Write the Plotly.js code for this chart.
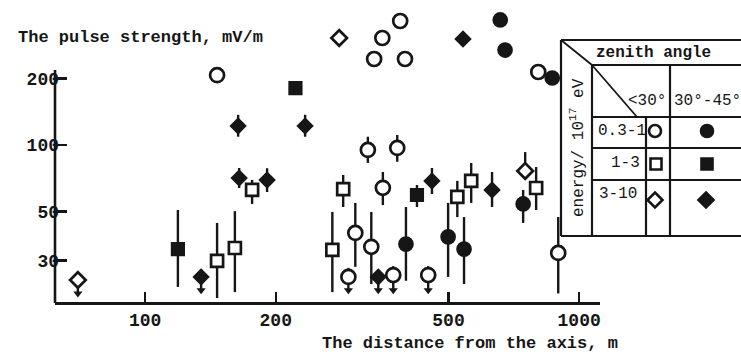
<!DOCTYPE html>
<html><head><meta charset="utf-8">
<script src="https://cdn.plot.ly/plotly-3.0.1.min.js"></script>
<style>html,body{margin:0;padding:0;background:#fff;} #chart{width:741px;height:356px;}</style>
</head><body><div id="chart"></div>
<script>
// ---------------- data: distance (m), pulse strength (mV/m), error-bar top/bottom, upper-limit flag
const tickVals = [100, 200, 500, 1000];
const yTickVals = [30, 50, 100, 200];

// energy 0.3-1 x10^17 eV, zenith < 30 deg (open circles)
const openCircleX  = [146.5, 387, 352, 337, 397, 805, 326, 381, 353, 305, 332, 895, 294, 373, 449];
const openCircleY  = [207, 364, 305, 245, 245, 214, 95, 97, 64, 40, 34.6, 32.5, 25.3, 25.8, 25.8];
const openCircleHi = [207, 364, 305, 245, 245, 214, 109, 111, 75.5, 54.7, 49.8, 47.2, 27.8, 28.3, 28.3];
const openCircleLo = [207, 364, 305, 245, 245, 214, 83, 84, 53.5, 28.1, 23.5, 21.3, 22, 22, 22];
const openCircleLimit = [0, 0, 0, 0, 0, 0, 0, 0, 0, 0, 0, 0, 1, 1, 1];

// energy 0.3-1, zenith 30-45 deg (filled circles)
const filledCircleX  = [658, 675, 867, 399, 499, 543, 743];
const filledCircleY  = [368, 269, 201, 35.6, 38.4, 33.8, 54.1];
const filledCircleHi = [368, 269, 201, 52.4, 54.7, 47.2, 62.6];
const filledCircleLo = [368, 269, 201, 24.3, 25.3, 23.5, 44.4];
const filledCircleLimit = [0, 0, 0, 0, 0, 0, 0];

// energy 1-3, zenith < 30 (open squares)
const openSquareX  = [146.5, 161, 176.4, 286, 270, 524, 564, 796];
const openSquareY  = [29.9, 34.2, 62.6, 63.2, 33.5, 58.2, 68.8, 63.9];
const openSquareHi = [44.4, 50.2, 69.5, 73.2, 49.8, 68.8, 82.9, 79.5];
const openSquareLo = [20.3, 21.6, 54.1, 52.4, 21.6, 47.2, 54.7, 50.8];
const openSquareLimit = [0, 0, 0, 0, 0, 0, 0, 0];

// energy 1-3, zenith 30-45 (filled squares)
const filledSquareX  = [119, 222, 423];
const filledSquareY  = [33.8, 181, 59.4];
const filledSquareHi = [50.8, 181, 65.9];
const filledSquareLo = [22.8, 181, 52.4];
const filledSquareLimit = [0, 0, 0];

// energy 3-10, zenith < 30 (open diamonds)
const openDiamondX  = [70, 280, 751];
const openDiamondY  = [24.5, 305, 76.3];
const openDiamondHi = [24.5, 305, 92.9];
const openDiamondLo = [21.3, 305, 70];
const openDiamondLimit = [1, 0, 0];

// energy 3-10, zenith 30-45 (filled diamonds)
const filledDiamondX  = [134.6, 163.8, 233.7, 164.7, 191, 540, 458, 344.5, 630];
const filledDiamondY  = [25.3, 122, 122, 70.9, 69.5, 302, 68.8, 25.3, 62.6];
const filledDiamondHi = [25.3, 137, 137, 78.7, 78.5, 302, 78.7, 25.3, 75.5];
const filledDiamondLo = [22, 109, 109, 63.9, 61.3, 302, 60, 22, 52.4];
const filledDiamondLimit = [1, 0, 0, 0, 0, 0, 0, 1, 0];

// ---------------- styling
const INK = '#161616';
const FONT = 'Liberation Mono, DejaVu Sans Mono, monospace';

function series(x, y, hi, lo, symbol, size, filled) {
  return {
    type: 'scatter', mode: 'markers', x: x, y: y,
    cliponaxis: false,
    marker: {symbol: symbol, size: size, color: filled ? INK : '#ffffff',
             line: {color: INK, width: 2.7}},
    error_y: {type: 'data', symmetric: false,
              array: y.map((v, i) => hi[i] - v),
              arrayminus: y.map((v, i) => v - lo[i]),
              color: INK, thickness: 2.4, width: 0},
    hoverinfo: 'skip'
  };
}

const allX = [openCircleX, filledCircleX, openSquareX, filledSquareX, openDiamondX, filledDiamondX];
const allLo = [openCircleLo, filledCircleLo, openSquareLo, filledSquareLo, openDiamondLo, filledDiamondLo];
const allLim = [openCircleLimit, filledCircleLimit, openSquareLimit, filledSquareLimit, openDiamondLimit, filledDiamondLimit];
const arrowX = [], arrowY = [];
allLim.forEach((lim, s) => lim.forEach((f, i) => { if (f) { arrowX.push(allX[s][i]); arrowY.push(allLo[s][i]); } }));

const traces = [
  series(openCircleX, openCircleY, openCircleHi, openCircleLo, 'circle', 14, false),
  series(filledCircleX, filledCircleY, filledCircleHi, filledCircleLo, 'circle', 13, true),
  series(openSquareX, openSquareY, openSquareHi, openSquareLo, 'square', 12, false),
  series(filledSquareX, filledSquareY, filledSquareHi, filledSquareLo, 'square', 11.5, true),
  series(openDiamondX, openDiamondY, openDiamondHi, openDiamondLo, 'diamond', 12, false),
  series(filledDiamondX, filledDiamondY, filledDiamondHi, filledDiamondLo, 'diamond', 10.5, true),
  {type: 'scatter', mode: 'markers', x: arrowX, y: arrowY, cliponaxis: false, hoverinfo: 'skip',
   marker: {symbol: 'triangle-down', size: 8, color: INK, line: {width: 0}}}
];

// ---------------- layout geometry (pixel helpers for the legend table)
const L = 55, T = 10, W = 545, H = 292;
const px = v => (v - L) / W;
const py = v => (T + H - v) / H;
function seg(x0, y0, x1, y1, w) {
  return {type: 'line', xref: 'paper', yref: 'paper', x0: px(x0), y0: py(y0), x1: px(x1), y1: py(y1),
          line: {color: INK, width: w || 2.2}};
}
function circ(cx, cy, r, filled) {
  return {type: 'circle', xref: 'paper', yref: 'paper', x0: px(cx - r), x1: px(cx + r), y0: py(cy + r), y1: py(cy - r),
          line: {color: INK, width: 2.6}, fillcolor: filled ? INK : 'rgba(0,0,0,0)'};
}
function sq(cx, cy, r, filled) {
  return {type: 'rect', xref: 'paper', yref: 'paper', x0: px(cx - r), x1: px(cx + r), y0: py(cy + r), y1: py(cy - r),
          line: {color: INK, width: 2.6}, fillcolor: filled ? INK : 'rgba(0,0,0,0)'};
}
function dia(cx, cy, r, filled) {
  const p = `M${px(cx)},${py(cy - r)} L${px(cx + r)},${py(cy)} L${px(cx)},${py(cy + r)} L${px(cx - r)},${py(cy)} Z`;
  return {type: 'path', xref: 'paper', yref: 'paper', path: p,
          line: {color: INK, width: 2.6}, fillcolor: filled ? INK : 'rgba(0,0,0,0)'};
}

const RX = 790;
const shapes = [
  // y axis line (shorter than the plotting area)
  {type: 'line', xref: 'paper', yref: 'paper', x0: 0, x1: 0, y0: py(303), y1: py(70), line: {color: INK, width: 2.6}},
  // legend table
  seg(561, 40, RX, 40), seg(561, 40, 561, 236), seg(561, 236, RX, 236),
  seg(592, 65, RX, 65), seg(592, 65, 592, 236),
  seg(670, 65, 670, 236), seg(646, 117, 646, 236),
  seg(592, 117, RX, 117), seg(592, 148, RX, 148), seg(592, 180, RX, 180),
  seg(561, 40, 592, 65, 1.8), seg(592, 65, 637, 117, 1.8),
  circ(655, 131, 6, false), circ(707, 131, 6, true),
  sq(656, 164, 5.5, false), sq(707, 164, 5.5, true),
  dia(655, 200, 7.5, false), dia(706, 200, 7.5, true)
];

const f = (s, w) => ({family: FONT, size: s, color: INK, weight: w || 'bold'});
const annotations = [
  {text: 'The pulse strength, mV/m', xref: 'paper', yref: 'paper', x: px(16), y: py(37),
   xanchor: 'left', yanchor: 'middle', showarrow: false, font: f(17)},
  {text: 'The distance from the axis, m', xref: 'paper', yref: 'paper', x: px(320), y: py(343),
   xanchor: 'left', yanchor: 'middle', showarrow: false, font: f(17)},
  {text: 'zenith angle', xref: 'paper', yref: 'paper', x: px(654), y: py(53),
   xanchor: 'center', yanchor: 'middle', showarrow: false, font: f(16)},
  {text: '<30°', xref: 'paper', yref: 'paper', x: px(668), y: py(101),
   xanchor: 'right', yanchor: 'middle', showarrow: false, font: f(16, 'normal')},
  {text: '30°-45°', xref: 'paper', yref: 'paper', x: px(672), y: py(101),
   xanchor: 'left', yanchor: 'middle', showarrow: false, font: f(16, 'normal')},
  {text: '0.3-1', xref: 'paper', yref: 'paper', x: px(596), y: py(131),
   xanchor: 'left', yanchor: 'middle', showarrow: false, font: f(16, 'normal')},
  {text: '1-3', xref: 'paper', yref: 'paper', x: px(642), y: py(163),
   xanchor: 'right', yanchor: 'middle', showarrow: false, font: f(16, 'normal')},
  {text: '3-10', xref: 'paper', yref: 'paper', x: px(597), y: py(194),
   xanchor: 'left', yanchor: 'middle', showarrow: false, font: f(16, 'normal')},
  {text: 'energy/ 10<sup>17</sup> eV', xref: 'paper', yref: 'paper', x: px(577), y: py(148),
   xanchor: 'center', yanchor: 'middle', textangle: -90, showarrow: false, font: f(16, 'normal')}
];

const layout = {
  width: 741, height: 356,
  margin: {l: L, r: 741 - L - W, t: T, b: 356 - T - H},
  paper_bgcolor: '#ffffff', plot_bgcolor: '#ffffff',
  showlegend: false, hovermode: false,
  font: {family: FONT, color: INK},
  xaxis: {type: 'log', range: [Math.log10(62), Math.log10(1117)],
          tickvals: tickVals, ticktext: tickVals.map(String),
          ticks: 'inside', ticklen: 10, tickwidth: 2.4, tickcolor: INK,
          showline: true, linecolor: INK, linewidth: 2.6, mirror: false,
          showgrid: false, zeroline: false, tickfont: f(18)},
  yaxis: {type: 'log', range: [1.2896, 2.6109],
          tickvals: yTickVals, ticktext: yTickVals.map(String),
          ticks: 'inside', ticklen: 12, tickwidth: 2.4, tickcolor: INK,
          ticklabelstandoff: -5,
          showline: false, showgrid: false, zeroline: false, tickfont: f(18)},
  shapes: shapes,
  annotations: annotations
};

Plotly.newPlot('chart', traces, layout, {staticPlot: true, displayModeBar: false});
</script>
</body></html>
